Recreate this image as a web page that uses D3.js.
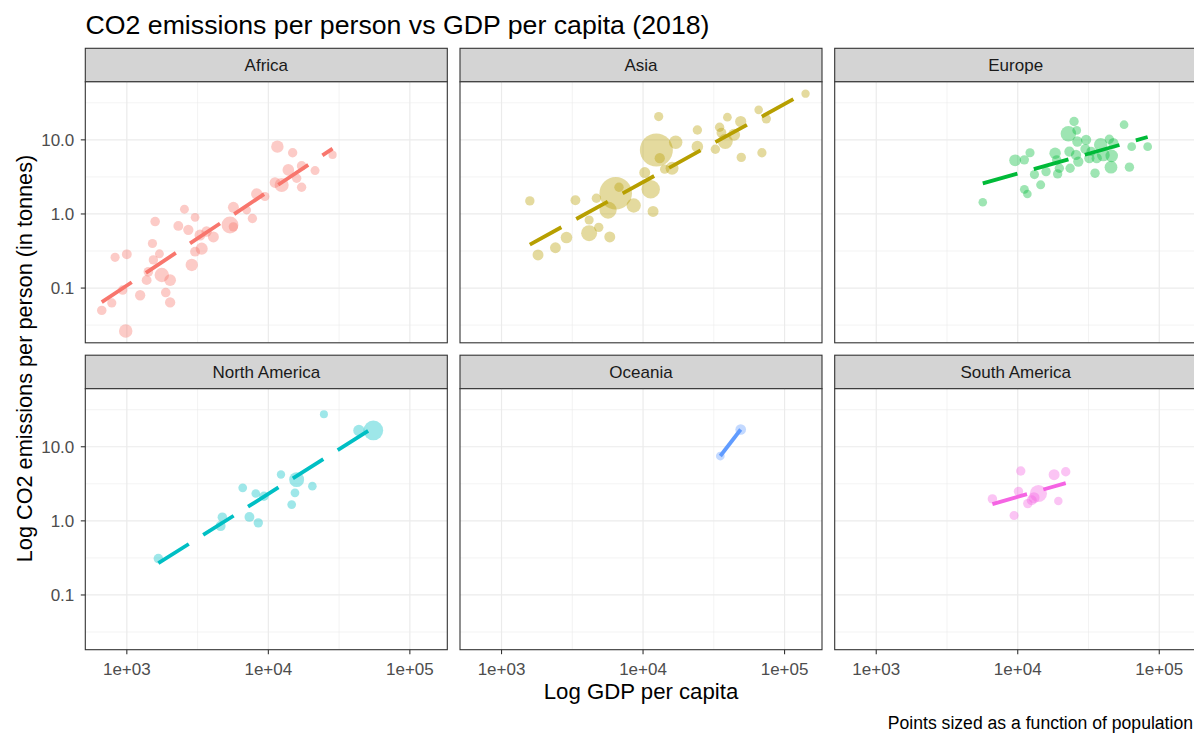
<!DOCTYPE html>
<html>
<head>
<meta charset="utf-8">
<script src="https://cdn.jsdelivr.net/npm/d3@7"></script>
<style>
  body { margin: 0; background: #ffffff; }
  svg { display: block; font-family: "Liberation Sans", Arial, Helvetica, sans-serif; }
</style>
</head>
<body>
<svg id="chart" width="1194" height="733"></svg>
<script>
// Continents (facet order) and their hue colours
const continents = ["Africa", "Asia", "Europe", "North America", "Oceania", "South America"];
const colors = ["#F8766D", "#B79F00", "#00BA38", "#00BFC4", "#619CFF", "#F564E3"];

// Country rows: [GDP per capita, CO2 per person (tonnes), population (millions)]
const africa = [
  [665, 0.050, 11], [783, 0.063, 8], [826, 0.26, 8], [1000, 0.285, 15], [935, 0.094, 10],
  [982, 0.0264, 84], [1242, 0.080, 20], [1585, 0.79, 12], [1517, 0.40, 8], [1540, 0.24, 10],
  [1700, 0.29, 6], [1380, 0.128, 15], [1420, 0.166, 12], [1766, 0.15, 109], [2023, 0.128, 43],
  [1884, 0.087, 12], [2023, 0.064, 20], [2553, 1.16, 6], [3036, 0.90, 5], [2312, 0.69, 15],
  [2720, 0.61, 20], [2877, 0.205, 56], [3036, 0.31, 15], [3380, 0.34, 51], [3290, 0.52, 30],
  [3660, 0.58, 20], [4090, 0.49, 30], [5358, 0.71, 196], [5660, 0.67, 10], [5664, 1.23, 30],
  [7030, 1.13, 5], [7713, 0.87, 10], [8282, 1.86, 36], [9460, 1.72, 8], [11584, 8.1, 58],
  [14850, 6.7, 10], [11140, 2.65, 25], [12420, 2.46, 98], [13840, 3.93, 42], [15850, 3.03, 10],
  [17180, 4.45, 12], [17180, 2.29, 10], [21380, 3.85, 7], [28440, 6.27, 2]
];
const asia = [
  [1585, 1.5, 10], [1811, 0.28, 30], [2404, 0.35, 28], [2877, 0.48, 40], [3327, 1.53, 15],
  [4159, 0.55, 161], [4159, 0.83, 8], [4865, 0.66, 10], [5820, 0.49, 30], [4680, 1.63, 10],
  [5660, 1.13, 212], [6412, 1.9, 1353], [6760, 2.29, 10], [8590, 1.30, 106], [11770, 1.08, 30],
  [10280, 3.62, 30], [11330, 2.15, 267], [12420, 7.3, 1400], [13120, 5.65, 20], [12900, 20.6, 8],
  [17010, 9.3, 82], [14220, 4.02, 10], [16030, 4.14, 69], [24200, 13.6, 10], [24200, 8.1, 40],
  [32430, 7.48, 10], [34750, 14.8, 10], [38100, 9.5, 127], [39450, 20.2, 5], [43950, 11.7, 51],
  [48980, 17.7, 33], [49430, 5.8, 10], [69180, 6.7, 9], [65610, 25.4, 4], [74300, 19.2, 9],
  [140700, 42, 3], [35800, 12.5, 15]
];
const europe = [
  [5660, 1.44, 4], [9580, 5.3, 44], [11130, 5.37, 10], [12210, 6.7, 8], [11140, 2.15, 6],
  [11700, 1.86, 4], [14520, 2.47, 7], [13120, 3.4, 8], [15850, 3.73, 10], [18370, 6.6, 38],
  [18840, 5.37, 10], [19680, 4.14, 10], [19140, 3.47, 10], [23170, 6.95, 19], [23440, 4.14, 10],
  [22800, 12.1, 145], [25000, 17.7, 10], [26120, 13.4, 5], [26370, 9.5, 20], [30410, 10.0, 20],
  [25820, 6.27, 20], [26790, 5.1, 20], [32060, 5.65, 20], [35160, 3.55, 10], [36140, 5.65, 20],
  [38550, 8.6, 83], [40270, 6.27, 66], [44360, 10.2, 10], [46130, 6.08, 60], [45600, 4.28, 65],
  [47420, 9.0, 20], [56400, 16.0, 5], [61520, 4.28, 10], [63830, 8.1, 5], [82800, 8.1, 5],
  [30000, 7.5, 15], [33000, 7.0, 10]
];
const northAmerica = [
  [1670, 0.31, 11], [4730, 1.12, 11], [4600, 0.85, 17], [7350, 1.13, 15], [8490, 0.94, 10],
  [6590, 2.79, 5], [8150, 2.34, 5], [9310, 2.15, 10], [12280, 4.23, 3], [15850, 3.6, 126],
  [15420, 2.39, 5], [14620, 1.66, 5], [20470, 2.94, 4], [24700, 27.4, 1.4], [43650, 16.6, 37],
  [55200, 16.6, 327]
];
const oceania = [
  [35150, 7.5, 5], [48980, 17.1, 25]
];
const southAmerica = [
  [6620, 1.98, 11], [9420, 1.18, 7], [10500, 4.7, 10], [10120, 2.5, 10], [11770, 1.71, 10],
  [12560, 1.90, 17], [13030, 2.05, 32], [14000, 2.34, 209], [18070, 4.2, 30], [19360, 1.85, 3.5],
  [21830, 4.6, 10]
];
const seriesRows = [africa, asia, europe, northAmerica, oceania, southAmerica];

// Axis breaks and labels
const xTicks = [1e3, 1e4, 1e5];
const xTickLabels = ["1e+03", "1e+04", "1e+05"];
const yTicks = [0.1, 1, 10];
const yTickLabels = ["0.1", "1.0", "10.0"];

// Texts
const titleText = "CO2 emissions per person vs GDP per capita (2018)";
const xTitle = "Log GDP per capita";
const yTitle = "Log CO2 emissions per person (in tonnes)";
const captionText = "Points sized as a function of population";

// ---- layout ----
const svg = d3.select("#chart");
const plotLeft = 85.3;
const panelW = 362;
const colGap = 12.7;
const stripTop0 = 48.3;
const stripH = 33.5;
const panelH = 261;
const rowGap = 12.4;
const nCols = 3;

const panelX = c => plotLeft + c * (panelW + colGap);
const stripY = r => stripTop0 + r * (stripH + panelH + rowGap);
const panelY = r => stripY(r) + stripH;

// ---- shared log scales with 5% expansion of the data range ----
const allRows = seriesRows.flat();
function expandedLog(values) {
  const lo = Math.log10(d3.min(values)), hi = Math.log10(d3.max(values));
  const pad = (hi - lo) * 0.05;
  return [Math.pow(10, lo - pad), Math.pow(10, hi + pad)];
}
const x = d3.scaleLog().domain(expandedLog(allRows.map(d => d[0]))).range([0, panelW]);
const y = d3.scaleLog().domain(expandedLog(allRows.map(d => d[1]))).range([panelH, 0]);
const r = d3.scaleSqrt().domain([0, d3.max(allRows, d => d[2])]).range([3.6, 16.5]);

// Minor breaks halfway between the major ones (in log space)
const minorBetween = ticks => {
  const out = [];
  const step = Math.log10(ticks[1]) - Math.log10(ticks[0]);
  const first = Math.log10(ticks[0]) - step, last = Math.log10(ticks[ticks.length - 1]) + step;
  for (let v = first; v < last; v += step) out.push(Math.pow(10, v + step / 2));
  return out;
};
const xMinor = minorBetween(xTicks).filter(v => v > x.domain()[0] && v < x.domain()[1]);
const yMinor = minorBetween(yTicks).filter(v => v > y.domain()[0] && v < y.domain()[1]);

// Ordinary least squares in log-log space
function fitLine(rows) {
  const xs = rows.map(d => Math.log10(d[0])), ys = rows.map(d => Math.log10(d[1]));
  const mx = d3.mean(xs), my = d3.mean(ys);
  let sxy = 0, sxx = 0;
  xs.forEach((v, i) => { sxy += (v - mx) * (ys[i] - my); sxx += (v - mx) * (v - mx); });
  const b = sxy / sxx, a = my - b * mx;
  const [x0, x1] = d3.extent(xs);
  return [[Math.pow(10, x0), Math.pow(10, a + b * x0)], [Math.pow(10, x1), Math.pow(10, a + b * x1)]];
}

const defs = svg.append("defs");
defs.append("clipPath").attr("id", "panel-clip")
  .append("rect").attr("width", panelW).attr("height", panelH);

continents.forEach((name, i) => {
  const col = i % nCols, row = Math.floor(i / nCols);
  const rows = seriesRows[i];
  const color = colors[i];

  // strip
  const strip = svg.append("g").attr("transform", `translate(${panelX(col)},${stripY(row)})`);
  strip.append("rect").attr("width", panelW).attr("height", stripH)
    .attr("fill", "#D4D4D4").attr("stroke", "#333333").attr("stroke-width", 1.1);
  strip.append("text").attr("x", panelW / 2).attr("y", stripH / 2).attr("dy", "0.35em")
    .attr("text-anchor", "middle").attr("font-size", 17).attr("fill", "#1A1A1A").text(name);

  const g = svg.append("g").attr("transform", `translate(${panelX(col)},${panelY(row)})`);
  g.append("rect").attr("width", panelW).attr("height", panelH).attr("fill", "#ffffff");

  // grid
  const grid = g.append("g");
  grid.selectAll(".xminor").data(xMinor).join("line")
    .attr("x1", d => x(d)).attr("x2", d => x(d)).attr("y1", 0).attr("y2", panelH)
    .attr("stroke", "#EBEBEB").attr("stroke-width", 0.6);
  grid.selectAll(".yminor").data(yMinor).join("line")
    .attr("y1", d => y(d)).attr("y2", d => y(d)).attr("x1", 0).attr("x2", panelW)
    .attr("stroke", "#EBEBEB").attr("stroke-width", 0.6);
  grid.selectAll(".xmajor").data(xTicks).join("line")
    .attr("x1", d => x(d)).attr("x2", d => x(d)).attr("y1", 0).attr("y2", panelH)
    .attr("stroke", "#EBEBEB").attr("stroke-width", 1.2);
  grid.selectAll(".ymajor").data(yTicks).join("line")
    .attr("y1", d => y(d)).attr("y2", d => y(d)).attr("x1", 0).attr("x2", panelW)
    .attr("stroke", "#EBEBEB").attr("stroke-width", 1.2);

  // points and fitted dashed line
  const marks = g.append("g").attr("clip-path", "url(#panel-clip)");
  marks.selectAll("circle").data(rows).join("circle")
    .attr("cx", d => x(d[0])).attr("cy", d => y(d[1])).attr("r", d => r(d[2]))
    .attr("fill", color).attr("fill-opacity", 0.38);
  const fit = fitLine(rows);
  marks.append("path")
    .attr("d", d3.line().x(d => x(d[0])).y(d => y(d[1]))(fit))
    .attr("fill", "none").attr("stroke", color).attr("stroke-width", 3.8)
    .attr("stroke-dasharray", "36,17");

  // border
  g.append("rect").attr("width", panelW).attr("height", panelH)
    .attr("fill", "none").attr("stroke", "#333333").attr("stroke-width", 1.1);

  // y axis on the first column
  if (col === 0) {
    const ya = g.append("g");
    ya.selectAll("line").data(yTicks).join("line")
      .attr("x1", -4.5).attr("x2", 0).attr("y1", d => y(d)).attr("y2", d => y(d))
      .attr("stroke", "#333333").attr("stroke-width", 1.1);
    ya.selectAll("text").data(yTicks).join("text")
      .attr("x", -11).attr("y", d => y(d)).attr("dy", "0.35em")
      .attr("text-anchor", "end").attr("font-size", 17).attr("fill", "#4D4D4D")
      .text((d, k) => yTickLabels[k]);
  }
  // x axis on the bottom row
  if (row === 1) {
    const xa = g.append("g").attr("transform", `translate(0,${panelH})`);
    xa.selectAll("line").data(xTicks).join("line")
      .attr("x1", d => x(d)).attr("x2", d => x(d)).attr("y1", 0).attr("y2", 4.5)
      .attr("stroke", "#333333").attr("stroke-width", 1.1);
    xa.selectAll("text").data(xTicks).join("text")
      .attr("x", d => x(d)).attr("y", 25)
      .attr("text-anchor", "middle").attr("font-size", 17).attr("fill", "#4D4D4D")
      .text((d, k) => xTickLabels[k]);
  }
});

// titles
const plotRight = panelX(nCols - 1) + panelW;
svg.append("text").attr("x", 85.5).attr("y", 33.5).attr("font-size", 26.7).attr("fill", "#000")
  .text(titleText);
svg.append("text").attr("x", (plotLeft + plotRight) / 2).attr("y", 699)
  .attr("text-anchor", "middle").attr("font-size", 22.2).attr("fill", "#000").text(xTitle);
svg.append("text")
  .attr("transform", "translate(31.5,358.5) rotate(-90)")
  .attr("text-anchor", "middle").attr("font-size", 21.7).attr("fill", "#000").text(yTitle);
svg.append("text").attr("x", 1193).attr("y", 729)
  .attr("text-anchor", "end").attr("font-size", 17.6).attr("fill", "#000").text(captionText);
</script>
</body>
</html>
